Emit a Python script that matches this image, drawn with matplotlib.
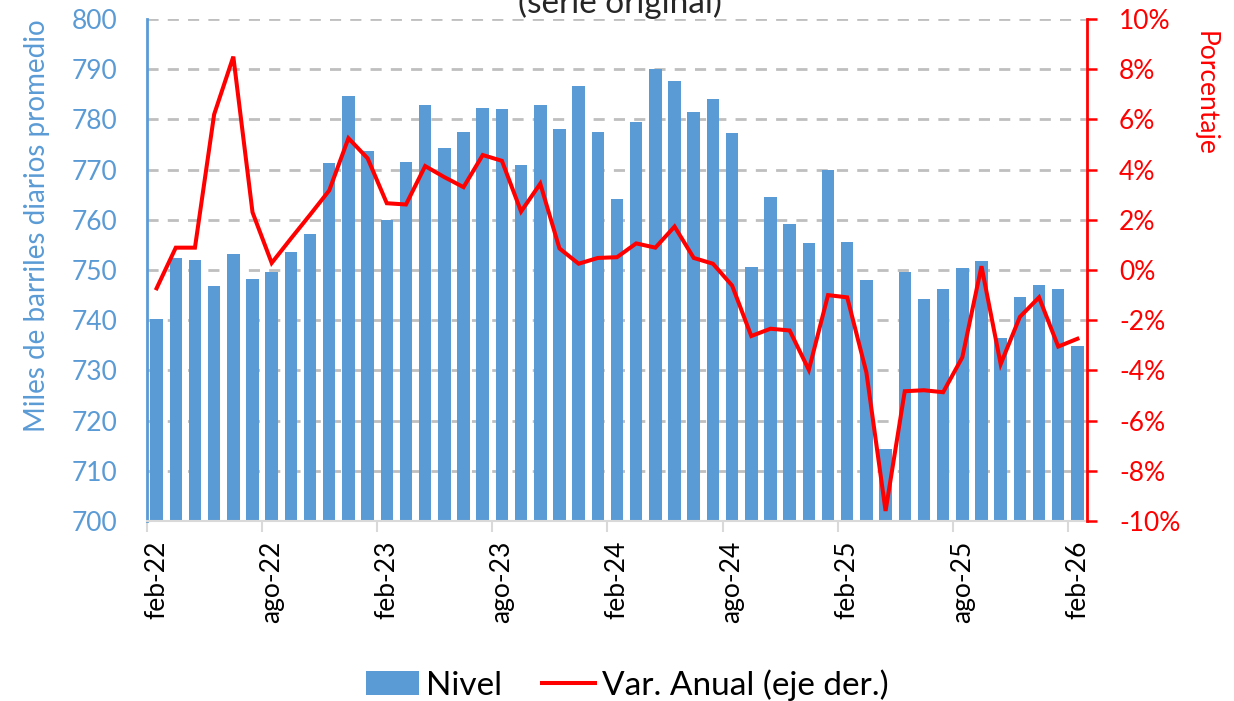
import matplotlib
matplotlib.use("Agg")
import matplotlib.pyplot as plt
from matplotlib.patches import Patch
from matplotlib.lines import Line2D
import numpy as np

plt.rcParams['font.family'] = ['Lato', 'DejaVu Sans']

# ---- data ----
months = ["feb-22","mar-22","abr-22","may-22","jun-22","jul-22","ago-22","sep-22","oct-22","nov-22","dic-22","ene-23",
          "feb-23","mar-23","abr-23","may-23","jun-23","jul-23","ago-23","sep-23","oct-23","nov-23","dic-23","ene-24",
          "feb-24","mar-24","abr-24","may-24","jun-24","jul-24","ago-24","sep-24","oct-24","nov-24","dic-24","ene-25",
          "feb-25","mar-25","abr-25","may-25","jun-25","jul-25","ago-25","sep-25","oct-25","nov-25","dic-25","ene-26",
          "feb-26"]
nivel = [740.3, 752.3, 752.0, 746.8, 753.1, 748.3, 749.7, 753.6, 757.1, 771.3, 784.6, 773.8,
         759.9, 771.5, 782.9, 774.4, 777.5, 782.3, 782.1, 771.0, 782.9, 778.1, 786.6, 777.5,
         764.2, 779.5, 790.1, 787.7, 781.5, 784.0, 777.3, 750.5, 764.5, 759.1, 755.4, 769.9,
         755.6, 748.0, 714.3, 749.7, 744.3, 746.3, 750.3, 751.8, 736.4, 744.6, 747.1, 746.3,
         734.9]
var_anual = [-0.73, 0.89, 0.89, 6.2, 8.5, 2.3, 0.28, 1.25, 2.2, 3.17, 5.25, 4.45,
             2.66, 2.61, 4.14, 3.7, 3.3, 4.58, 4.35, 2.33, 3.44, 0.86, 0.25, 0.48,
             0.51, 1.06, 0.89, 1.73, 0.48, 0.25, -0.62, -2.63, -2.34, -2.41, -3.98, -1.0,
             -1.09, -4.08, -9.6, -4.83, -4.79, -4.87, -3.48, 0.15, -3.75, -1.87, -1.09, -3.05,
             -2.74]
left_ticks = [700, 710, 720, 730, 740, 750, 760, 770, 780, 790, 800]
right_ticks = [-10, -8, -6, -4, -2, 0, 2, 4, 6, 8, 10]
label_step = 6

BLUE = '#5B9BD5'
RED = '#FF0000'
GRID = '#BFBFBF'

W, H = 1234, 701
fig = plt.figure(figsize=(W/100, H/100), dpi=100)
L, R, T, B = 147, 1087, 19, 521
ax = fig.add_axes([L/W, 1-B/H, (R-L)/W, (B-T)/H])

x = np.arange(len(months))
ax.bar(x, nivel, width=0.65, color=BLUE, zorder=2)
ax.set_xlim(-0.5, len(months)-0.5)
ax.set_ylim(left_ticks[0], left_ticks[-1])
ax.set_yticks(left_ticks)
ax.set_yticklabels([str(v) for v in left_ticks])

# gridlines (dashed), behind bars
for v in left_ticks[1:]:
    ax.axhline(v, color=GRID, lw=2.0, linestyle=(0, (4.0, 3.3)), zorder=1)

# x ticks: labels at category centers, tick marks at boundaries
lab_idx = list(range(0, len(months), label_step))
ax.set_xticks(lab_idx)
ax.set_xticklabels([months[i] for i in lab_idx], rotation=90, fontsize=19)
ax.set_xticks([i-0.5 for i in lab_idx], minor=True)
ax.tick_params(axis='x', which='major', length=0, pad=14)
ax.tick_params(axis='x', which='minor', length=8, width=1.5, color='#D9D9D9', direction='out')

ax.tick_params(axis='y', length=0, pad=21, labelsize=19, labelcolor=BLUE)

for s in ['top', 'right']:
    ax.spines[s].set_visible(False)
ax.spines['left'].set_color(BLUE)
ax.spines['left'].set_linewidth(2.0)
ax.spines['bottom'].set_color('#D9D9D9')
ax.spines['bottom'].set_linewidth(1.5)

ax2 = ax.twinx()
ax2.plot(x, var_anual, color=RED, lw=2.9, zorder=3, solid_joinstyle='miter')
ax2.set_ylim(right_ticks[0], right_ticks[-1])
ax2.set_yticks(right_ticks)
ax2.set_yticklabels([f"{v}%" for v in right_ticks])
ax2.tick_params(axis='y', length=7, width=1.8, color=RED, pad=16, labelsize=19, labelcolor=RED, direction='out')
for s in ['top', 'left', 'bottom']:
    ax2.spines[s].set_visible(False)
ax2.spines['right'].set_color(RED)
ax2.spines['right'].set_linewidth(2.0)

fig.text(37/W, 1-226/H, "Miles de barriles diarios promedio", rotation=90, color=BLUE,
         fontsize=20, ha='center', va='center')
fig.text(1205/W, 1-93/H, "Porcentaje", rotation=270, color=RED,
         fontsize=19, ha='center', va='center')
fig.text(620/W, 1-13/H, "(serie original)", color='#262626', fontsize=24,
         ha='center', va='baseline')

handles = [Patch(facecolor=BLUE, edgecolor='none'), Line2D([0], [0], color=RED, lw=2.9)]
fig.legend(handles, ["Nivel", "Var. Anual (eje der.)"], loc='center', bbox_to_anchor=(627/W, 1-685/H),
           ncol=2, frameon=False, fontsize=24, handlelength=1.6, handleheight=0.75,
           handletextpad=0.2, columnspacing=1.2)

fig.savefig("out.png", dpi=100)
